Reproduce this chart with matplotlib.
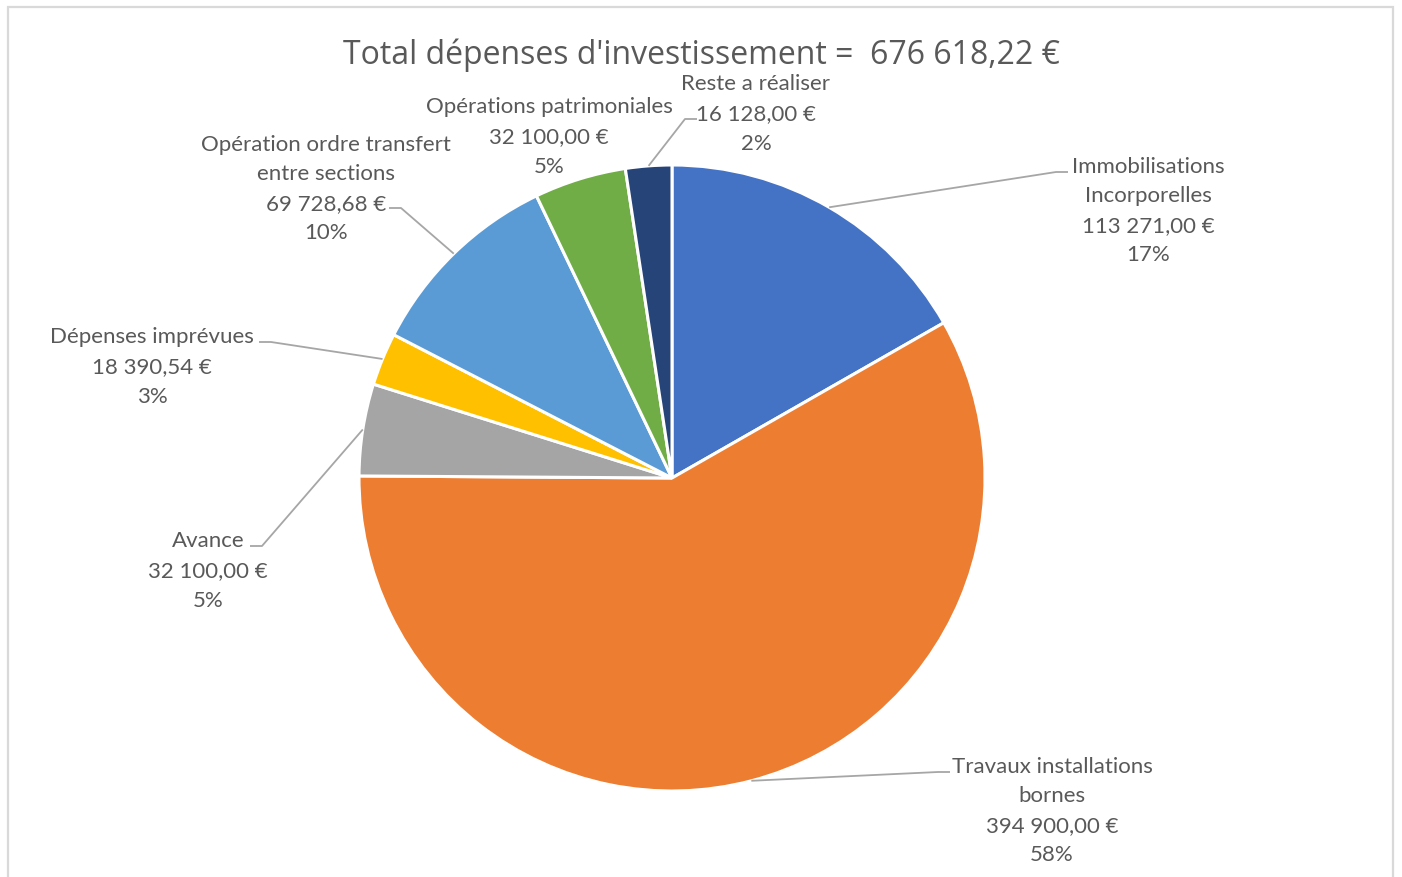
import numpy as np
import matplotlib.pyplot as plt
from matplotlib.patches import Rectangle

# ===============================
# DATA
# ===============================
categories = [
    "Immobilisations\nIncorporelles",
    "Travaux installations\nbornes",
    "Avance",
    "Dépenses imprévues",
    "Opération ordre transfert\nentre sections",
    "Opérations patrimoniales",
    "Reste a réaliser",
]
values = [113271.00, 394900.00, 32100.00, 18390.54, 69728.68, 32100.00, 16128.00]
colors = ["#4472C4", "#ED7D31", "#A5A5A5", "#FFC000", "#5B9BD5", "#70AD47", "#264478"]

# label layout, in pixels from the top-left (text centre, leader end, elbow side)
label_pos = [(1148, 211), (1052, 811), (208, 571), (152, 367), (326, 189), (549, 137), (756, 114)]
leader_end = [(1068, 173), (950, 773), (250, 547), (259, 343), (389, 209), None, (697, 120)]
leader_dir = [-1, -1, 1, 1, 1, 0, -1]

W, H = 1402, 878
CX, CY, R = 672, 479, 313
TXT = "#595959"
LINE = "#A6A6A6"


def fr(v):
    s = f"{v:,.2f}"
    return s.replace(",", " ").replace(".", ",") + " €"


def py(y):
    return H - y


total = sum(values)

fig = plt.figure(figsize=(W / 100, H / 100), dpi=100)
ax = fig.add_axes([0, 0, 1, 1])

wedges, _ = ax.pie(
    values, colors=colors, startangle=90, counterclock=False,
    center=(CX, py(CY)), radius=R,
    wedgeprops=dict(edgecolor="white", linewidth=2.2),
)
ax.set_xlim(0, W)
ax.set_ylim(0, H)
ax.set_aspect("equal")
ax.axis("off")

# chart border
ax.add_patch(Rectangle((7.5, -20), 1386, py(7.5) + 20, fill=False,
                       edgecolor="#D9D9D9", linewidth=1.6, zorder=0))

ax.text(701, py(55), f"Total dépenses d'investissement =  {fr(total)}",
        ha="center", va="center", fontsize=23, color=TXT, family="Open Sans")

for i, w in enumerate(wedges):
    pct = values[i] / total * 100
    txt = f"{categories[i]}\n{fr(values[i])}\n{pct:.0f}%"
    x, y = label_pos[i]
    ax.text(x, py(y), txt, ha="center", va="center", fontsize=16, color=TXT,
            family="Lato", linespacing=1.6)

    if leader_end[i] is None:
        continue
    mid = np.radians((w.theta1 + w.theta2) / 2)
    sx, sy = CX + R * np.cos(mid), py(CY) + R * np.sin(mid)
    ex, ey = leader_end[i]
    kx = ex + 12 * leader_dir[i]
    ax.plot([sx, kx, ex], [sy, py(ey), py(ey)], color=LINE, lw=1.3,
            solid_capstyle="butt", zorder=1)

fig.savefig("out.png", dpi=100)
